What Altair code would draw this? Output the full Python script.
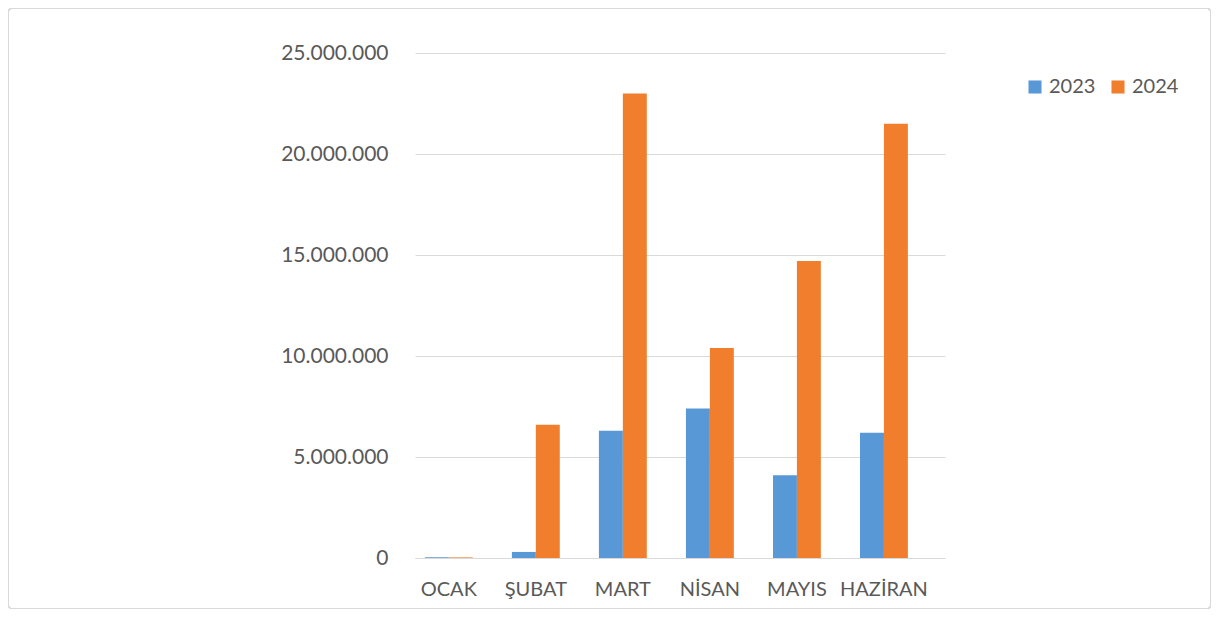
import altair as alt
import pandas as pd

months = ["OCAK", "ŞUBAT", "MART", "NİSAN", "MAYIS", "HAZİRAN"]
years = ["2023", "2024"]
v2023 = [40000, 300000, 6300000, 7400000, 4100000, 6200000]
v2024 = [30000, 6600000, 23000000, 10400000, 14700000, 21500000]

rows = []
for m, a, b in zip(months, v2023, v2024):
    rows.append({"ay": m, "yil": "2023", "deger": a})
    rows.append({"ay": m, "yil": "2024", "deger": b})
df = pd.DataFrame(rows)

FONT = "Lato"
GREY = "#595959"

bars = alt.Chart(df).mark_bar().encode(
    x=alt.X("ay:N", sort=months, title=None,
            scale=alt.Scale(paddingInner=0.45, paddingOuter=0.27, align=0.21),
            axis=alt.Axis(labelAngle=0, ticks=False, grid=False, domain=True, domainColor="#d9d9d9",
                          labelFontSize=20, labelColor=GREY, labelFont=FONT, labelPadding=21)),
    xOffset=alt.XOffset("yil:N", sort=years),
    y=alt.Y("deger:Q", title=None,
            scale=alt.Scale(domain=[0, 25000000]),
            axis=alt.Axis(values=[0, 5000000, 10000000, 15000000, 20000000, 25000000],
                          labelExpr="replace(format(datum.value, ',d'), regexp(',', 'g'), '.')",
                          ticks=False, domain=False, gridColor="#d9d9d9",
                          labelFontSize=21, labelColor=GREY, labelFont=FONT, labelPadding=27)),
    color=alt.Color("yil:N", sort=years,
                    scale=alt.Scale(domain=years, range=["#5898d6", "#f07e2c"]),
                    legend=alt.Legend(title=None, orient="none", direction="horizontal",
                                      legendX=610, legendY=24, symbolType="square",
                                      symbolSize=170, symbolStrokeWidth=0,
                                      labelFontSize=20, labelColor=GREY, labelFont=FONT,
                                      columnPadding=12, labelOffset=4)),
)

frame = alt.Chart(df).mark_rect(fill=None, stroke="#d9d9d9", strokeWidth=1, cornerRadius=3).encode(
    x=alt.value(-406.5), x2=alt.value(795.5), y=alt.value(-44.5), y2=alt.value(555.5)
)

chart = alt.layer(bars, frame).properties(
    width=530, height=505,
    autosize=alt.AutoSizeParams(type="none"),
    padding={"left": 407, "top": 45, "right": 266, "bottom": 51},
).configure(background="white").configure_view(stroke=None, strokeWidth=0)

chart.save("out.html", embed_options={"renderer": "svg", "actions": False})
